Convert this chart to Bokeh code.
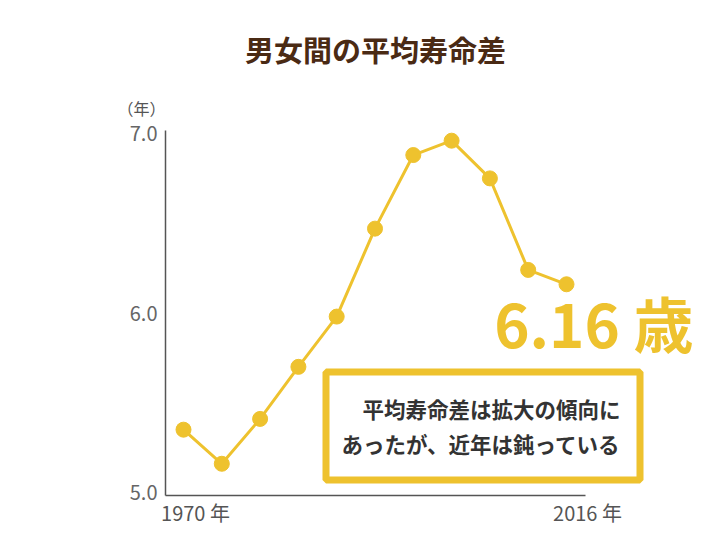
from bokeh.plotting import figure
from bokeh.models import ColumnDataSource, Label, BoxAnnotation, Range1d
from bokeh.embed import file_html
from bokeh.resources import INLINE

# ---- data ----
years = ["1970", "1975", "1980", "1985", "1990", "1995", "2000", "2005", "2010", "2015", "2016"]
gap = [5.35, 5.16, 5.41, 5.70, 5.98, 6.47, 6.88, 6.96, 6.75, 6.24, 6.16]
y_ticks = [5.0, 6.0, 7.0]
x_tick_labels = ["1970 年", "2016 年"]
title_text = "男女間の平均寿命差"
unit_text = "（年）"
big_text = "6.16 歳"
note_lines = ["平均寿命差は拡大の傾向に", "あったが、近年は鈍っている"]

GOLD = "#EEC22E"
FONT = "Noto Sans CJK JP"
W, H = 710, 529

# ---- pixel -> data helpers (layout only) ----
X0_PX, X_STEP = 183.0, 38.3      # first point position, spacing between points
Y5_PX, Y_UNIT = 492.0, 179.5     # pixel of value 5.0, pixels per unit


def dx(px):
    return (px - X0_PX) / X_STEP


def dy(py):
    return 5.0 + (Y5_PX - py) / Y_UNIT


# axis extents
AX_L, AX_R = dx(165), dx(585)
AX_B, AX_T = dy(495), dy(130)

idx = list(range(len(years)))
src = ColumnDataSource(dict(x=idx, gap=gap, year=years))

p = figure(width=W, height=H, output_backend="svg", toolbar_location=None,
           x_range=Range1d(dx(0), dx(W)), y_range=Range1d(dy(H), dy(0)),
           x_axis_location=None, y_axis_location=None,
           min_border=0, min_border_left=0, min_border_right=0,
           min_border_top=0, min_border_bottom=0)
p.outline_line_color = None
p.grid.visible = False
p.background_fill_color = "white"
p.border_fill_color = "white"

# axis lines
p.segment(x0=[AX_L, AX_L], y0=[AX_B, AX_B], x1=[AX_L, AX_R], y1=[AX_T, AX_B],
          line_color="#555555", line_width=1.5)

# y tick labels
p.text(x=[AX_L] * len(y_ticks), y=y_ticks, text=[f"{t:.1f}" for t in y_ticks],
       x_offset=-8, text_align="right", text_baseline="middle",
       text_font={"value": FONT}, text_font_size="20px", text_color="#666666")

# x tick labels
p.text(x=[dx(195), dx(587)], y=[dy(512)] * 2, text=x_tick_labels,
       text_align="center", text_baseline="middle",
       text_font={"value": FONT}, text_font_size="20px", text_color="#555555")

# data
p.line("x", "gap", source=src, line_color=GOLD, line_width=3)
p.scatter("x", "gap", source=src, size=15, fill_color=GOLD, line_color=GOLD)

p.add_layout(Label(x=dx(141), y=dy(107), text=unit_text, text_align="center", text_baseline="middle",
                   text_font=FONT, text_font_size="16px", text_color="#555555"))

p.add_layout(Label(x=dx(375), y=dy(48), text=title_text, text_align="center", text_baseline="middle",
                   text_font=FONT, text_font_size="29px", text_font_style="bold", text_color="#4A2A14"))

p.add_layout(Label(x=dx(693), y=dy(321), text=big_text, text_align="right", text_baseline="middle",
                   text_font=FONT, text_font_size="60px", text_font_style="bold", text_color=GOLD))

p.add_layout(BoxAnnotation(left=dx(325.5), right=dx(639.5), top=dy(371.5), bottom=dy(479.5),
                           fill_color="white", fill_alpha=1.0, line_color=GOLD, line_alpha=1.0,
                           line_width=7))

for py, txt in zip([408, 443], note_lines):
    p.add_layout(Label(x=dx(620), y=dy(py), text=txt, text_align="right", text_baseline="middle",
                       text_font=FONT, text_font_size="21.5px", text_font_style="bold",
                       text_color="#333333"))

open("out.html", "w").write(file_html(p, INLINE))
